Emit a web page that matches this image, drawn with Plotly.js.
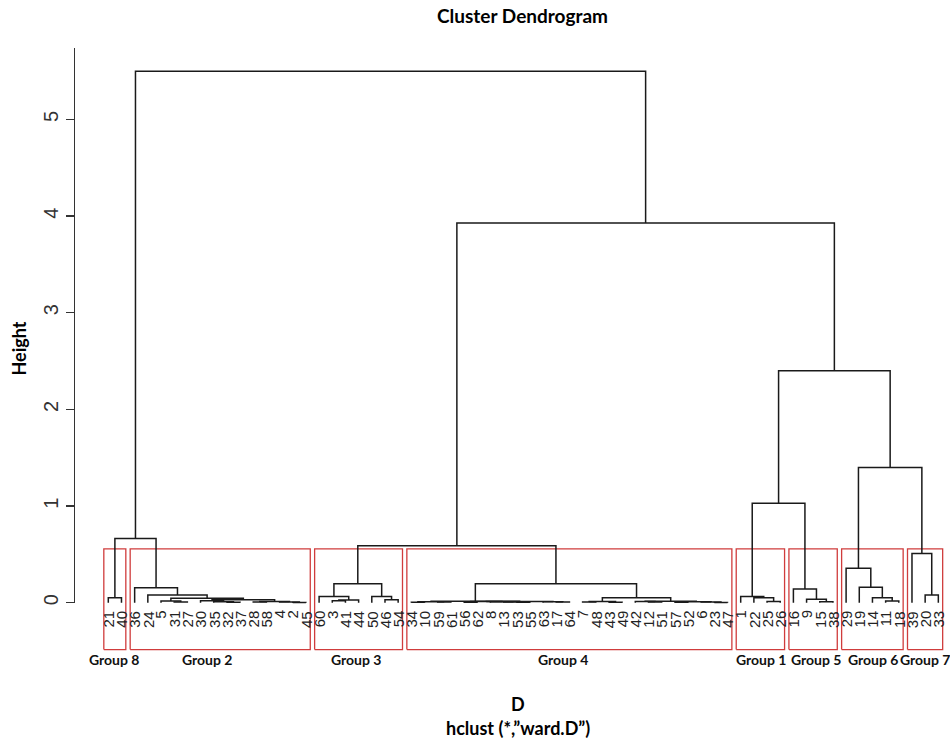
<!DOCTYPE html>
<html>
<head>
<meta charset="utf-8">
<script src="https://cdn.plot.ly/plotly-3.0.1.min.js"></script>
<style>html,body{margin:0;padding:0;background:#fff;}#chart{width:950px;height:745px;}</style>
</head>
<body>
<div id="chart"></div>
<script>
// ---- data ----
var leafOrder = [21,40, 36,24,5,31,27,30,35,32,37,28,58,4,2,45, 60,3,41,44,50,46,54,
  34,10,59,61,56,62,8,13,53,55,63,17,64,7,48,43,49,42,12,51,57,52,6,23,47,
  1,22,25,26, 16,9,15,38, 29,19,14,11,18, 39,20,33];
// merges (R convention: negative = observation, positive = earlier merge step)
var mergeLeft  = [-21,-31,-5,-32,-35,-30,-28,-2,-4,7,6,3,-24,-36,-3,15,-60,-46,-50,17,
  -34,-59,21,-56,-53,-13,-8,24,-17,-63,28,23,-7,-43,33,-12,-42,-57,-23,-6,38,37,35,32,
  1,20,-25,-22,-1,-15,-9,-16,-11,-14,-19,-29,-20,-39,49,56,59,46,45];
var mergeRight = [-40,-27,2,-37,4,5,-58,-45,8,9,10,11,12,13,-41,-44,16,-54,18,19,
  -10,-61,22,-62,-55,25,26,27,-64,29,30,31,-48,-49,34,-51,36,-52,-47,39,40,41,42,43,
  14,44,-26,47,48,-38,50,51,-18,53,54,55,-33,57,52,58,60,61,62];
var mergeHeight = [0.05,0.008,0.018,0.005,0.010,0.020,0.006,0.003,0.008,0.012,0.030,0.045,0.080,0.155,
  0.020,0.028,0.065,0.030,0.065,0.195,
  0.004,0.006,0.009,0.005,0.004,0.007,0.009,0.011,0.006,0.009,0.013,0.016,
  0.006,0.005,0.012,0.007,0.012,0.005,0.003,0.006,0.010,0.016,0.050,0.195,
  0.665,0.590,0.012,0.050,0.065,0.010,0.035,0.142,0.018,0.052,0.160,0.356,0.080,0.510,
  1.030,1.400,2.400,3.930,5.500];
var groupNames = ['Group 8','Group 2','Group 3','Group 4','Group 1','Group 5','Group 6','Group 7'];
var groupSizes = [2,14,7,25,4,4,5,3];
var cutHeight = 0.556;
var yTicks = [0,1,2,3,4,5];

// ---- build geometry from data ----
var pos = {};
leafOrder.forEach(function(l,i){ pos[l] = i+1; });
var nodeX = [], nodeH = [];
var dx = [], dy = [];
function child(c){
  if (c < 0) return {x: pos[-c], h: 0};
  return {x: nodeX[c-1], h: nodeH[c-1]};
}
for (var i=0;i<mergeHeight.length;i++){
  var a = child(mergeLeft[i]), b = child(mergeRight[i]), h = mergeHeight[i];
  nodeX.push((a.x+b.x)/2); nodeH.push(h);
  dx.push(a.x,a.x,b.x,b.x,null); dy.push(a.h,h,h,b.h,null);
}
var yLo = -0.5, yHi = 5.74;
var rx = [], ry = [], groupAnn = [];
var labelShift = [0,-13,-2,-6,1,3,1,0];
var start = 1;
groupSizes.forEach(function(n,g){
  var end = start + n - 1;
  var l = start - 0.34, r = end + 0.33, bot = yLo + 0.015;
  rx.push(l,l,r,r,l,null); ry.push(bot,cutHeight,cutHeight,bot,bot,null);
  groupAnn.push({x:(start+end)/2, xref:'x', y:-0.0135, yref:'paper', text:groupNames[g],
    showarrow:false, xanchor:'center', yanchor:'middle', xshift:labelShift[g],
    font:{family:'Lato, "Open Sans", sans-serif', size:14, color:'#111', weight:'bold'}});
  start = end + 1;
});

var leafAnn = leafOrder.map(function(l,i){
  return {x:i+1, xref:'x', y:0, yref:'y', text:String(l), textangle:-90, showarrow:false,
    xanchor:'center', yanchor:'top', yshift:-6,
    font:{family:'"Liberation Sans", Arial, sans-serif', size:15, color:'#222'}};
});

var traces = [
  {type:'scatter', mode:'lines', x:rx, y:ry, xaxis:'x', yaxis:'y',
   line:{color:'#d03c3c', width:1.3}, hoverinfo:'skip', showlegend:false},
  {type:'scatter', mode:'lines', x:dx, y:dy, xaxis:'x', yaxis:'y',
   line:{color:'#1a1a1a', width:1.5}, hoverinfo:'skip', showlegend:false},
  {type:'scatter', mode:'lines', x:[], y:[], xaxis:'x', yaxis:'y2', hoverinfo:'skip', showlegend:false}
];

var titleFont = {family:'Lato, "Open Sans", sans-serif', size:18, color:'#000', weight:'bold'};
var layout = {
  width:950, height:745,
  margin:{l:75, r:0, t:48, b:94},
  paper_bgcolor:'#fff', plot_bgcolor:'rgba(0,0,0,0)',
  showlegend:false,
  title:{text:'Cluster Dendrogram', x:(522.5-75)/875, xref:'paper', xanchor:'center',
    y:1-16/745, yref:'container', yanchor:'middle',
    font:{family:'Lato, "Open Sans", sans-serif', size:19, color:'#000', weight:'bold'}},
  xaxis:{range:[1-33.3/13.175, 1+(950-108.3)/13.175], domain:[0,1], anchor:'y',
    showgrid:false, zeroline:false, showline:false, showticklabels:false, ticks:''},
  yaxis:{range:[yLo,yHi], domain:[0,1], anchor:'x', visible:false,
    showgrid:false, zeroline:false},
  yaxis2:{range:[0,yHi], domain:[(0-yLo)/(yHi-yLo),1], anchor:'x',
    showgrid:false, zeroline:false, showline:true, linecolor:'#333', linewidth:1.3,
    ticks:'outside', ticklen:8, tickwidth:1.3, tickcolor:'#333',
    tickmode:'array', tickvals:yTicks, ticktext:yTicks.map(String), tickangle:-90,
    tickfont:{family:'"Liberation Sans", Arial, sans-serif', size:20, color:'#333'}},
  annotations: leafAnn.concat(groupAnn).concat([
    {text:'Height', xref:'paper', x:(18.5-75)/875, yref:'paper', y:(651-349)/603,
     textangle:-90, showarrow:false, xanchor:'center', yanchor:'middle', font:titleFont},
    {text:'D', xref:'paper', x:(518-75)/875, yref:'paper', y:(651-704)/603,
     showarrow:false, xanchor:'center', yanchor:'middle', font:titleFont},
    {text:'hclust (*,\u201Dward.D\u201D)', xref:'paper', x:(518-75)/875, yref:'paper', y:(651-727.5)/603,
     showarrow:false, xanchor:'center', yanchor:'middle', font:titleFont}
  ])
};
Plotly.newPlot('chart', traces, layout, {staticPlot:true, displayModeBar:false});
</script>
</body>
</html>
